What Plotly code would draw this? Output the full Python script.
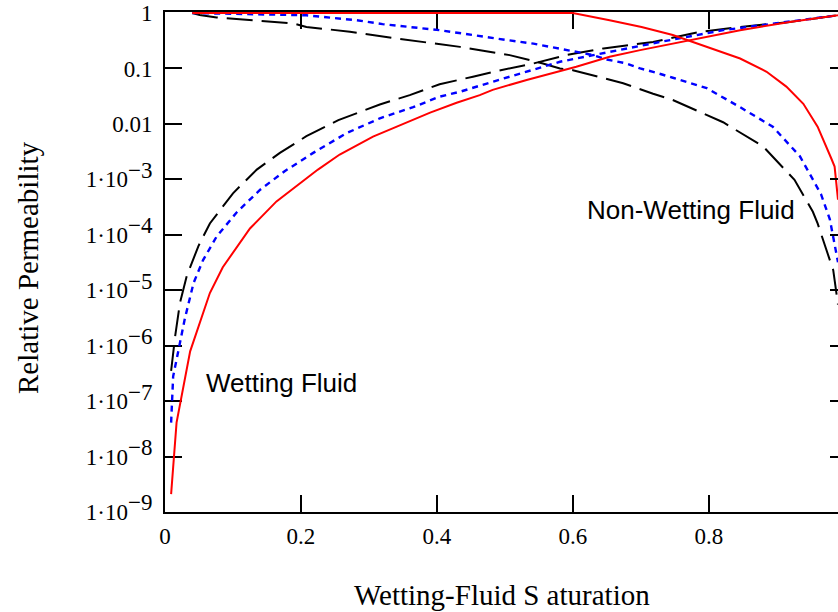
import plotly.graph_objects as go

# ---- data (S = wetting-fluid saturation, k = relative permeability)
S_w_black = [0.009, 0.015, 0.022, 0.032, 0.049, 0.066, 0.100, 0.135, 0.169, 0.208, 0.255, 0.316,
             0.360, 0.404, 0.453, 0.483, 0.542, 0.590, 0.645, 0.718, 0.787, 0.846, 0.919, 0.990, 1.0]
k_w_black = [3.5e-7, 1.5e-6, 5.9e-6, 1.8e-5, 6.2e-5, 1.6e-4, 5.6e-4, 1.5e-3, 3.0e-3, 6.0e-3, 0.0117, 0.0224,
             0.033, 0.052, 0.071, 0.087, 0.123, 0.174, 0.23, 0.30, 0.457, 0.56, 0.69, 0.91, 1.0]

S_nw_black = [0.040, 0.051, 0.076, 0.125, 0.189, 0.208, 0.272, 0.346, 0.419, 0.434, 0.493, 0.507, 0.556,
              0.581, 0.600, 0.654, 0.674, 0.718, 0.747, 0.821, 0.863, 0.880, 0.914, 0.926, 0.953, 0.960,
              0.977, 0.983, 0.990]
k_nw_black = [1.0, 0.92, 0.83, 0.74, 0.65, 0.56, 0.46, 0.34, 0.26, 0.245, 0.186, 0.174, 0.123,
              0.100, 0.093, 0.062, 0.054, 0.035, 0.027, 0.0107, 5.1e-3, 3.9e-3, 1.4e-3, 9.8e-4, 2.6e-4, 1.6e-4,
              3.8e-5, 2.3e-5, 5.5e-6]

S_w_blue = [0.009, 0.012, 0.020, 0.029, 0.042, 0.056, 0.076, 0.105, 0.140, 0.176, 0.218, 0.267, 0.316,
            0.365, 0.404, 0.434, 0.483, 0.532, 0.581, 0.630, 0.679, 0.728, 0.821, 0.895, 0.990, 1.0]
k_w_blue = [4.1e-8, 2.8e-7, 8.5e-7, 3.0e-6, 1.35e-5, 3.5e-5, 9.3e-5, 2.5e-4, 6.5e-4, 1.4e-3, 3.0e-3, 6.8e-3, 0.0126,
            0.020, 0.031, 0.038, 0.058, 0.087, 0.132, 0.174, 0.23, 0.30, 0.49, 0.65, 0.91, 1.0]

S_nw_blue = [0.040, 0.174, 0.208, 0.282, 0.320, 0.404, 0.434, 0.473, 0.507, 0.542, 0.581, 0.600, 0.630,
             0.650, 0.679, 0.699, 0.718, 0.747, 0.797, 0.846, 0.894, 0.934, 0.965, 0.978, 0.988, 0.990]
k_nw_blue = [1.0, 0.92, 0.91, 0.74, 0.63, 0.49, 0.43, 0.37, 0.32, 0.28, 0.225, 0.20, 0.174,
             0.145, 0.123, 0.100, 0.087, 0.068, 0.044, 0.020, 8.9e-3, 2.6e-3, 5.4e-4, 1.9e-4, 4.7e-5, 3.2e-5]

S_w_red = [0.009, 0.017, 0.037, 0.066, 0.085, 0.125, 0.164, 0.199, 0.225, 0.257, 0.306, 0.341, 0.390,
           0.429, 0.463, 0.482, 0.532, 0.605, 0.654, 0.699, 0.772, 0.846, 0.919, 0.990, 1.0]
k_w_red = [2.1e-9, 4.1e-8, 7.9e-7, 8.9e-6, 2.6e-5, 1.3e-4, 4.0e-4, 8.5e-4, 1.5e-3, 2.8e-3, 5.9e-3, 8.9e-3, 0.016,
           0.024, 0.033, 0.041, 0.062, 0.107, 0.162, 0.214, 0.32, 0.49, 0.69, 0.91, 1.0]

S_nw_red = [0.040, 0.600, 0.654, 0.701, 0.747, 0.797, 0.846, 0.885, 0.914, 0.939, 0.960, 0.980, 0.985, 0.990]
k_nw_red = [1.0, 1.0, 0.74, 0.56, 0.40, 0.245, 0.151, 0.087, 0.047, 0.023, 8.9e-3, 2.4e-3, 1.7e-3, 4.3e-4]

x_ticks = [0, 0.2, 0.4, 0.6, 0.8]
x_ticktext = ["0", "0.2", "0.4", "0.6", "0.8"]
y_ticks = [1, 0.1, 0.01, 1e-3, 1e-4, 1e-5, 1e-6, 1e-7, 1e-8, 1e-9]
y_ticktext = ["1", "0.1", "0.01"] + [
    "1\u00b710<sup><span style='font-size:23px'>\u2212%d</span></sup>" % e for e in range(3, 10)
]

SERIF = "Liberation Serif, Times New Roman, serif"
SANS = "Liberation Sans, Arial, sans-serif"

fig = go.Figure()
black = dict(color="black", width=2, dash="26px,9px")
blue = dict(color="#0000ff", width=2.4, dash="6px,5px")
red = dict(color="#ff0000", width=2)

fig.add_trace(go.Scatter(x=S_w_black, y=k_w_black, mode="lines", line=black, showlegend=False))
fig.add_trace(go.Scatter(x=S_nw_black, y=k_nw_black, mode="lines", line=black, showlegend=False))
fig.add_trace(go.Scatter(x=S_w_blue, y=k_w_blue, mode="lines", line=blue, showlegend=False))
fig.add_trace(go.Scatter(x=S_nw_blue, y=k_nw_blue, mode="lines", line=blue, showlegend=False))
fig.add_trace(go.Scatter(x=S_w_red, y=k_w_red, mode="lines", line=red, showlegend=False))
fig.add_trace(go.Scatter(x=S_nw_red, y=k_nw_red, mode="lines", line=red, showlegend=False))
# invisible trace to activate the right-hand tick axis
fig.add_trace(go.Scatter(x=[0.5], y=[0.01], yaxis="y2", mode="markers",
                         marker=dict(opacity=0), showlegend=False, hoverinfo="skip"))

YR = [-9, 0.018]
fig.update_layout(
    width=838, height=612,
    margin=dict(l=165, r=0, t=12, b=100),
    paper_bgcolor="white", plot_bgcolor="white",
    xaxis=dict(range=[0, 0.99], tickvals=x_ticks, ticktext=x_ticktext,
               ticks="inside", ticklen=17, tickwidth=2, tickcolor="black",
               showline=True, linewidth=2, linecolor="black", mirror="ticks",
               showgrid=False, zeroline=False, layer="below traces",
               tickfont=dict(family=SERIF, size=23, color="black"), ticklabelstandoff=2),
    yaxis=dict(type="log", range=YR, tickvals=y_ticks, ticktext=y_ticktext,
               ticks="inside", ticklen=17, tickwidth=2, tickcolor="black",
               showline=True, linewidth=2, linecolor="black",
               showgrid=False, zeroline=False, layer="below traces",
               tickfont=dict(family=SERIF, size=23, color="black"), ticklabelstandoff=6),
    yaxis2=dict(type="log", range=YR, tickvals=y_ticks, overlaying="y", side="right",
                ticks="inside", ticklen=8, tickwidth=2, tickcolor="black",
                showticklabels=False, showline=False, showgrid=False, zeroline=False),
    annotations=[
        dict(text="Relative Permeability", xref="paper", yref="paper", x=-0.2036, y=0.49,
             textangle=-90, showarrow=False, xanchor="center", yanchor="middle",
             font=dict(family=SERIF, size=29, color="black")),
        dict(text="Wetting-Fluid S aturation", xref="paper", yref="paper", x=0.5007, y=-0.166,
             showarrow=False, xanchor="center", yanchor="middle",
             font=dict(family=SERIF, size=29, color="black")),
        dict(text="Wetting Fluid", xref="x", yref="y", x=0.171, y=-6.67, showarrow=False,
             xanchor="center", yanchor="middle", font=dict(family=SANS, size=26, color="black")),
        dict(text="Non-Wetting Fluid", xref="x", yref="y", x=0.774, y=-3.55, showarrow=False,
             xanchor="center", yanchor="middle", font=dict(family=SANS, size=26, color="black")),
    ],
)

fig.write_html("out.html")
